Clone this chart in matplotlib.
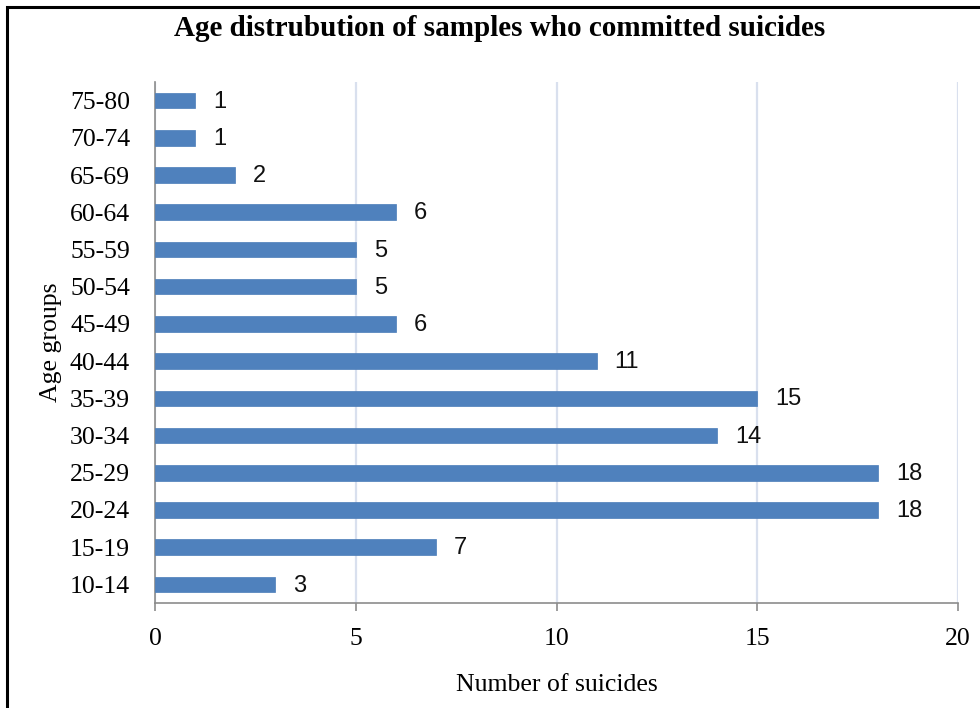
import matplotlib.pyplot as plt
from matplotlib.patches import Rectangle

age_groups = ['10-14', '15-19', '20-24', '25-29', '30-34', '35-39', '40-44',
              '45-49', '50-54', '55-59', '60-64', '65-69', '70-74', '75-80']
suicides = [3, 7, 18, 18, 14, 15, 11, 6, 5, 5, 6, 2, 1, 1]
x_ticks = [0, 5, 10, 15, 20]

serif = ['Liberation Serif', 'DejaVu Serif']
sans = ['Liberation Sans', 'DejaVu Sans']

fig = plt.figure(figsize=(9.8, 7.08), dpi=100)
ax = fig.add_axes([155 / 980, 1 - 603 / 708, (958 - 155) / 980, (603 - 82) / 708])

ypos = list(range(len(age_groups)))
ax.barh(ypos, suicides, height=0.42, color='#4f81bd', edgecolor='#4a7cb8', linewidth=0.5, zorder=3)

for y, v in zip(ypos, suicides):
    ax.text(v + 0.45, y - 0.03, str(v), va='center', ha='left', fontsize=17, family=sans, color='#111111')

ax.set_xlim(0, 20)
ax.set_ylim(-0.5, len(age_groups) - 0.5)
ax.set_xticks(x_ticks)
ax.set_yticks(ypos)
ax.set_yticklabels(age_groups, family=serif, fontsize=18.5)
ax.set_xticklabels([str(t) for t in x_ticks], family=serif, fontsize=18.5)

ax.grid(axis='x', color='#d9e0ee', linewidth=1.6, zorder=0)
for s in ['top', 'right']:
    ax.spines[s].set_visible(False)
ax.spines['left'].set_color('#8c8c8c')
ax.spines['bottom'].set_color('#8c8c8c')
ax.spines['left'].set_linewidth(1.2)
ax.spines['bottom'].set_linewidth(1.2)
ax.tick_params(axis='y', length=0, pad=18)
ax.tick_params(axis='x', direction='out', length=6, color='#8c8c8c', width=1.2, pad=12)

ax.set_xlabel('Number of suicides', family=serif, fontsize=18.5, labelpad=17)
ax.set_ylabel('Age groups', family=serif, fontsize=18.5, labelpad=6)

fig.text(0.51, 1 - 29 / 708, 'Age distrubution of samples who committed suicides',
         ha='center', va='center', family=serif, fontsize=21, fontweight='bold')

# black frame (top and left edges visible, continues past right/bottom)
fig.add_artist(Rectangle((7 / 980, -0.05), 1.1, 1 - 7 / 708 + 0.05,
                         transform=fig.transFigure, fill=False,
                         edgecolor='black', linewidth=2.2))

fig.savefig('out.png', dpi=100)
